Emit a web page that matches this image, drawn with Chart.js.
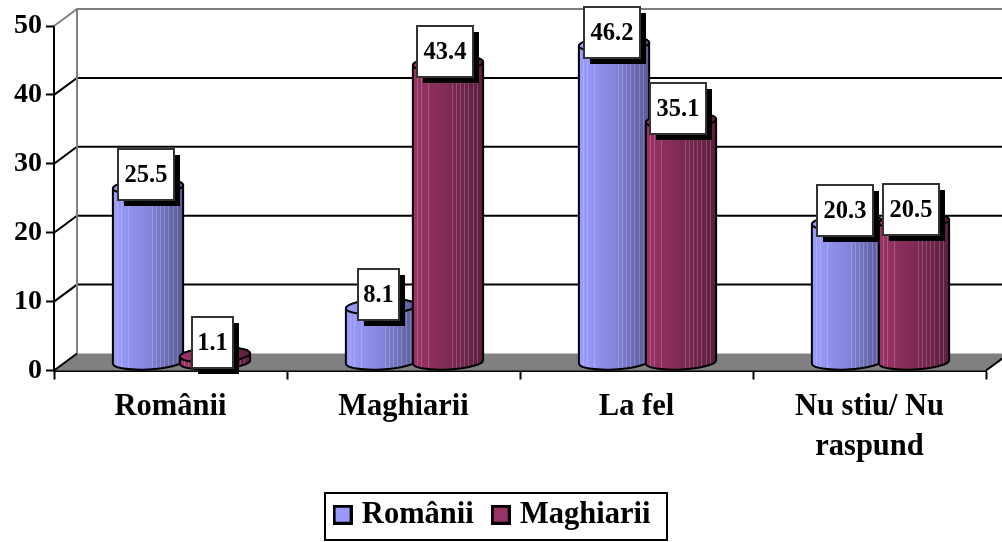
<!DOCTYPE html>
<html>
<head>
<meta charset="utf-8">
<title>Românii / Maghiarii</title>
<style>
  html, body { margin: 0; padding: 0; background: #fff; }
  canvas { display: block; }
</style>
<script src="https://cdn.jsdelivr.net/npm/chart.js@4/dist/chart.umd.js"></script>
</head>
<body>
<canvas id="grafic" width="1002" height="542"></canvas>
<script>
// date
const categorii = ['Românii', 'Maghiarii', 'La fel', ['Nu stiu/ Nu', 'raspund']];
const valoriRomanii = [25.5, 8.1, 46.2, 20.3];
const valoriMaghiarii = [1.1, 43.4, 35.1, 20.5];
const serieRomanii = 'Românii';
const serieMaghiarii = 'Maghiarii';

const FONT = '"Liberation Serif", serif';
// adancimea "3D" a graficului
const DX = 23, DY = 17;
const BAR_DX = 11, BAR_DY = 8;
const RY = 7.5, ROT = -0.05;
const dungi = [0.06, 0.11, 0.22, 0.55, 0.61, 0.67, 0.73, 0.79, 0.85, 0.91];

function perete(chart) {
    const ctx = chart.ctx, xs = chart.scales.x, ys = chart.scales.y;
    const y0 = ys.getPixelForValue(0), x0 = xs.left, x1 = xs.right;
    ctx.save();
    // podeaua
    ctx.fillStyle = '#808080';
    ctx.beginPath();
    ctx.moveTo(x0, y0);
    ctx.lineTo(x0 + DX, y0 - DY);
    ctx.lineTo(x1 + DX, y0 - DY);
    ctx.lineTo(x1, y0);
    ctx.closePath();
    ctx.fill();
    // linii de grid
    ctx.lineWidth = 2;
    ys.ticks.forEach(function(t) {
        const y = ys.getPixelForValue(t.value);
        const gri = t.value === 50;
        if (t.value > 0) {
            ctx.strokeStyle = gri ? '#808080' : '#000';
            ctx.beginPath();
            ctx.moveTo(x0, y);
            ctx.lineTo(x0 + DX, y - DY);
            ctx.lineTo(1002, y - DY);
            ctx.stroke();
        }
    });
    ctx.strokeStyle = '#808080';
    ctx.beginPath();
    ctx.moveTo(x0 + DX, y0 - DY);
    ctx.lineTo(x0 + DX, ys.getPixelForValue(50) - DY);
    ctx.stroke();
    ctx.strokeStyle = '#000';
    ctx.beginPath();
    ctx.moveTo(x0, y0);
    ctx.lineTo(x0 + DX, y0 - DY);
    ctx.moveTo(x1, y0);
    ctx.lineTo(x1 + DX, y0 - DY);
    ctx.stroke();
    ctx.restore();
}

function cilindru(ctx, el, culori) {
    const cx = el.x + BAR_DX, r = el.width / 2;
    const sus = el.y - BAR_DY, jos = el.base - BAR_DY;
    const g = ctx.createLinearGradient(cx - r, 0, cx + r, 0);
    g.addColorStop(0, culori[0]);
    g.addColorStop(0.5, culori[1]);
    g.addColorStop(1, culori[2]);

    const corp = new Path2D();
    corp.ellipse(cx, jos, r, RY, ROT, 0, Math.PI);
    corp.ellipse(cx, sus, r, RY, ROT, Math.PI, 2 * Math.PI);
    corp.closePath();
    const capac = new Path2D();
    capac.ellipse(cx, sus, r, RY, ROT, 0, 2 * Math.PI);

    ctx.save();
    ctx.fillStyle = g;
    ctx.fill(corp);
    // dungile deschise
    ctx.save();
    ctx.clip(corp);
    ctx.strokeStyle = 'rgba(255,255,255,0.2)';
    ctx.lineWidth = 1;
    dungi.forEach(function(d) {
        const x = Math.round(cx - r + d * 2 * r) + 0.5;
        ctx.beginPath();
        ctx.moveTo(x, sus);
        ctx.lineTo(x, jos + RY);
        ctx.stroke();
    });
    ctx.restore();
    ctx.lineWidth = 2;
    ctx.strokeStyle = '#000';
    ctx.stroke(corp);
    ctx.fill(capac);
    ctx.stroke(capac);
    ctx.restore();
}

function eticheta(ctx, el, valoare) {
    const text = valoare.toFixed(1);
    ctx.save();
    ctx.font = 'bold 24.5px ' + FONT;
    const w = text.length > 3 ? 56 : 41, h = 51;
    const x = Math.round(el.x + BAR_DX - 2.5 - w / 2);
    const y = Math.round(el.y - BAR_DY - 12 - h / 2);
    ctx.fillStyle = '#000';
    ctx.fillRect(x + 6, y + 6, w, h);
    ctx.fillStyle = '#fff';
    ctx.fillRect(x, y, w, h);
    ctx.strokeStyle = '#333';
    ctx.lineWidth = 2;
    ctx.strokeRect(x, y, w, h);
    ctx.fillStyle = '#000';
    ctx.textAlign = 'center';
    ctx.textBaseline = 'middle';
    ctx.fillText(text, x + w / 2, y + h / 2 + 1);
    ctx.restore();
}

// patratele din legenda, ca sa stea textul mai aproape decat implicit
function patrat(culoare) {
    const c = document.createElement('canvas');
    c.width = 20;
    c.height = 20;
    const x = c.getContext('2d');
    x.fillStyle = culoare;
    x.fillRect(0, 0, 20, 20);
    x.strokeStyle = '#000';
    x.lineWidth = 3;
    x.strokeRect(1.5, 1.5, 17, 17);
    return c;
}

const desen3d = {
    id: 'desen3d',
    afterLayout(chart) {
        chart.legend.left += 3;
    },
    beforeDatasetsDraw(chart) {
        const ctx = chart.ctx;
        perete(chart);
        const culori = [['#9c9cff', '#8585dc', '#595996'], ['#9c3468', '#7f2a55', '#5c1e3e']];
        const nr = categorii.length;
        for (let i = 0; i < nr; i++) {
            [0, 1].forEach(function(d) {
                cilindru(ctx, chart.getDatasetMeta(d).data[i], culori[d]);
            });
        }
        for (let i = 0; i < nr; i++) {
            [0, 1].forEach(function(d) {
                eticheta(ctx, chart.getDatasetMeta(d).data[i], chart.data.datasets[d].data[i]);
            });
        }
        return false;
    },
    afterDraw(chart) {
        // chenarul legendei
        const ctx = chart.ctx;
        ctx.save();
        ctx.strokeStyle = '#000';
        ctx.lineWidth = 2;
        ctx.strokeRect(325, 493, 342, 47);
        ctx.restore();
    }
};

const ctx = document.getElementById('grafic').getContext('2d');
new Chart(ctx, {
    type: 'bar',
    data: {
        labels: categorii,
        datasets: [
            { label: serieRomanii, data: valoriRomanii, backgroundColor: '#9999ff' },
            { label: serieMaghiarii, data: valoriMaghiarii, backgroundColor: '#993366' }
        ]
    },
    options: {
        responsive: false,
        animation: false,
        categoryPercentage: 0.575,
        barPercentage: 1.05,
        layout: { padding: { top: 26, right: 16, left: 0, bottom: 2 } },
        plugins: {
            tooltip: { enabled: false },
            legend: {
                position: 'bottom',
                labels: {
                    color: '#000',
                    font: { family: FONT, size: 30.5, weight: 'bold' },
                    usePointStyle: true,
                    pointStyleWidth: 8,
                    padding: 23,
                    generateLabels(chart) {
                        return chart.data.datasets.map(function(d, i) {
                            return { text: d.label, datasetIndex: i, pointStyle: patrat(d.backgroundColor), fontColor: '#000' };
                        });
                    }
                }
            }
        },
        scales: {
            x: {
                grid: { drawOnChartArea: false, color: '#000', tickColor: '#000', tickLength: 9, tickWidth: 2 },
                border: { color: '#000', width: 2 },
                ticks: {
                    color: '#000',
                    padding: 8,
                    maxRotation: 0,
                    font: { family: FONT, size: 30.5, weight: 'bold', lineHeight: 1.31 }
                },
                afterFit(scale) { scale.height = 106; }
            },
            y: {
                min: 0,
                max: 50,
                grid: { drawOnChartArea: false, color: '#000', tickColor: '#000', tickLength: 8, tickWidth: 2 },
                border: { color: '#000', width: 2 },
                ticks: {
                    stepSize: 10,
                    color: '#000',
                    padding: 4,
                    font: { family: FONT, size: 28, weight: 'bold' }
                },
                afterFit(scale) { scale.width = 54; }
            }
        }
    },
    plugins: [desen3d]
});
</script>
</body>
</html>
